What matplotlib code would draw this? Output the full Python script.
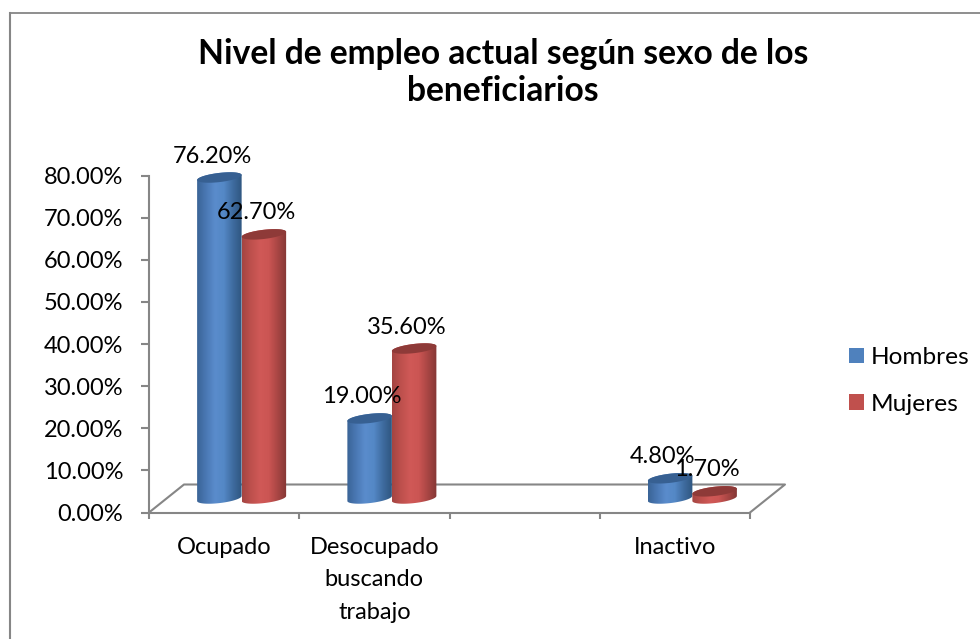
import numpy as np
import matplotlib
matplotlib.use("Agg")
import matplotlib.pyplot as plt
from matplotlib.colors import LinearSegmentedColormap
from matplotlib.lines import Line2D
from matplotlib.patches import Patch, Polygon

categories = ["Ocupado", "Desocupado\nbuscando\ntrabajo", "", "Inactivo"]
hombres = [76.2, 19.0, None, 4.8]
mujeres = [62.7, 35.6, None, 1.7]
yticks = [0, 10, 20, 30, 40, 50, 60, 70, 80]
title = "Nivel de empleo actual según sexo de los\nbeneficiarios"

W, H = 980, 639
GRAY = "#868686"
FONT = ["Lato", "DejaVu Sans"]
FS = 17
AX_L, AX_R, AX_T, AX_B = 149, 750, 175.5, 512.5

# pixels to data units for the fake 3d depth
PX_X = 4 / (AX_R - AX_L)
PX_Y = 80 / (AX_B - AX_T)
DEPTH_X = 17.5 * PX_X
DEPTH_Y = 14 * PX_Y
BAR_W = 44.5 * PX_X
ELL_B = 4.6 * PX_Y
ELL_TILT = 2.5 * PX_Y

blue = LinearSegmentedColormap.from_list("b", ["#3A6496", "#4A78B4", "#5A8CCC", "#5488C6", "#3F6CA0", "#2F5680"])
red = LinearSegmentedColormap.from_list("r", ["#A34542", "#BE504D", "#D05957", "#CB5553", "#A84644", "#843735"])


def ellipse_xy(cx, cy, t):
    x = cx + BAR_W / 2 * np.cos(t)
    y = cy + ELL_B * np.sin(t) + ELL_TILT * np.cos(t)
    return np.column_stack([x, y])


def cylinder(ax, cx, value, cmap, top_color, zorder):
    """
    draw one cylinder at mid depth of the floor, gradient clipped to its outline
    """
    base = DEPTH_Y
    top = base + value
    lower = ellipse_xy(cx, base, np.linspace(np.pi, 2 * np.pi, 40))
    upper = ellipse_xy(cx, top, np.linspace(0, np.pi, 40))
    outline = Polygon(np.vstack([lower, upper]), closed=True, fc="none", ec="none",
                      transform=ax.transData)
    ax.add_patch(outline)
    grad = np.linspace(0, 1, 128).reshape(1, -1)
    im = ax.imshow(grad, cmap=cmap, aspect="auto", interpolation="bilinear", zorder=zorder,
                   extent=(cx - BAR_W / 2, cx + BAR_W / 2, base - 2, top + 2))
    im.set_clip_box(ax.figure.bbox)
    im.set_clip_path(outline)
    cap = Polygon(ellipse_xy(cx, top, np.linspace(0, 2 * np.pi, 60)), closed=True,
                  fc=top_color, ec="none", zorder=zorder + 0.1, clip_on=False)
    ax.add_patch(cap)


def bar_label(ax, cx, value):
    ax.annotate("%.2f%%" % value, (cx, DEPTH_Y + value), xytext=(-7.5 * 0.72, 21.5 * 0.72),
                textcoords="offset points", ha="center", va="center", fontsize=FS,
                family=FONT, color="black", zorder=20, annotation_clip=False)


def main():
    fig = plt.figure(figsize=(W / 100, H / 100), dpi=100, facecolor="white")
    ax = fig.add_axes([AX_L / W, 1 - AX_B / H, (AX_R - AX_L) / W, (AX_B - AX_T) / H])

    # chart frame, only top and left are inside the picture
    fig.add_artist(Line2D([10 / W, 1], [1 - 12.5 / H] * 2, color=GRAY, lw=1.3))
    fig.add_artist(Line2D([10 / W] * 2, [0, 1 - 12.5 / H], color=GRAY, lw=1.5))

    xmin, xmax = -0.5, len(categories) - 0.5

    # floor
    floor_x = [xmin, xmin + 2 * DEPTH_X, xmax + 2 * DEPTH_X, xmax]
    floor_y = [0, 2 * DEPTH_Y, 2 * DEPTH_Y, 0]
    ax.plot(floor_x, floor_y, color=GRAY, lw=1.5, clip_on=False, zorder=1)

    for i in range(len(categories)):
        cx = i + DEPTH_X
        if hombres[i] is not None:
            cylinder(ax, cx - BAR_W / 2, hombres[i], blue, "#376092", 3 + i)
        if mujeres[i] is not None:
            cylinder(ax, cx + BAR_W / 2, mujeres[i], red, "#8E3A38", 3.5 + i)

    for i in range(len(categories)):
        cx = i + DEPTH_X
        if hombres[i] is not None:
            bar_label(ax, cx - BAR_W / 2, hombres[i])
        if mujeres[i] is not None:
            bar_label(ax, cx + BAR_W / 2, mujeres[i])

    ax.set_xlim(xmin, xmax)
    ax.set_ylim(0, 80)
    ax.patch.set_visible(False)
    for side in ["top", "right"]:
        ax.spines[side].set_visible(False)
    for side in ["left", "bottom"]:
        ax.spines[side].set_color(GRAY)
        ax.spines[side].set_linewidth(1.5)

    ax.set_yticks(yticks)
    ax.set_yticklabels(["%.2f%%" % v for v in yticks], fontsize=FS, family=FONT)
    ax.tick_params(axis="y", length=6, width=1.5, color=GRAY, pad=12.5)

    ax.set_xticks(np.arange(xmin, xmax + 1))
    ax.set_xticklabels([])
    ax.tick_params(axis="x", which="major", length=4.5, width=1.5, color=GRAY)
    ax.set_xticks(range(len(categories)), minor=True)
    ax.set_xticklabels(categories, minor=True, fontsize=FS, family=FONT, linespacing=1.68)
    ax.tick_params(axis="x", which="minor", length=0, pad=17.5)

    fig.text(503 / W, 1 - 72.5 / H, title, ha="center", va="center", fontsize=24.2, fontweight="bold",
             family=FONT, color="black", linespacing=1.2)

    handles = [Patch(fc="#4F81BD", ec="none", label="Hombres"), Patch(fc="#C0504D", ec="none", label="Mujeres")]
    fig.legend(handles=handles, loc="center left", bbox_to_anchor=(849 / W, 1 - 381 / H), frameon=False,
               prop={"family": FONT, "size": 17.6}, handlelength=0.62, handleheight=0.62,
               handletextpad=0.25, labelspacing=1.05, borderpad=0, borderaxespad=0)

    fig.savefig("out.png", dpi=100)


if __name__ == "__main__":
    main()
